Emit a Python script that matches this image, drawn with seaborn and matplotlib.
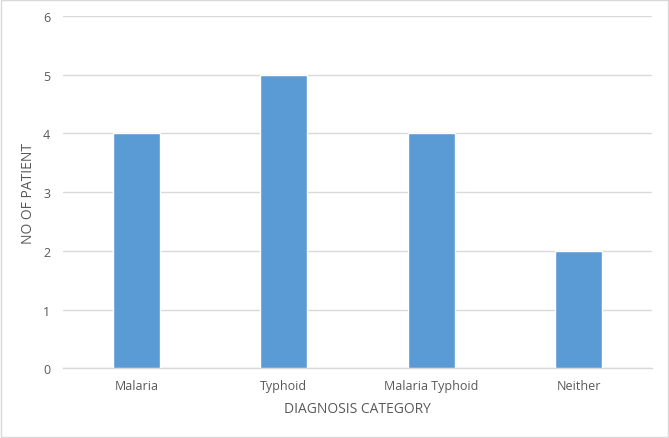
import matplotlib
matplotlib.use("Agg")
import matplotlib.pyplot as plt
import seaborn as sns
import pandas as pd
from matplotlib.patches import Rectangle

## data
categories = ["Malaria", "Typhoid", "Malaria Typhoid", "Neither"]
patients = [4, 5, 4, 2]

df = pd.DataFrame({"category": categories, "patients": patients})

sns.set_theme(style="white")
plt.rcParams['font.family'] = ['Open Sans', 'DejaVu Sans']
text_color = "#595959"

fig = plt.figure(figsize=(6.69, 4.39), dpi=100)
ax = fig.add_axes([0.094, 0.159, 0.881, 0.802])

sns.barplot(data=df, x="category", y="patients", color="#5B9BD5",
            width=0.32, saturation=1, ax=ax, zorder=3)

ax.set_ylim(0, 6)
ax.set_yticks(range(0, 7))
ax.set_xlim(-0.5, len(categories) - 0.5)
ax.yaxis.grid(True, color="#D9D9D9", linewidth=1, zorder=0)
ax.xaxis.grid(False)
for side in ["top", "right", "left"]:
    ax.spines[side].set_visible(False)
ax.spines["bottom"].set_color("#D9D9D9")
ax.spines["bottom"].set_linewidth(1)

ax.tick_params(axis="both", length=0, labelsize=9, colors=text_color, pad=8)
ax.tick_params(axis="y", pad=9)
ax.set_xlabel("DIAGNOSIS CATEGORY", fontsize=10, color=text_color, labelpad=6)
ax.set_ylabel("NO OF PATIENT", fontsize=10, color=text_color, labelpad=5)

## light border round the whole chart
fig.patches.append(Rectangle((0.001, 0.002), 0.997, 0.995, transform=fig.transFigure,
                             fill=False, edgecolor="#D9D9D9", linewidth=1))

fig.savefig("out.png", dpi=100)
